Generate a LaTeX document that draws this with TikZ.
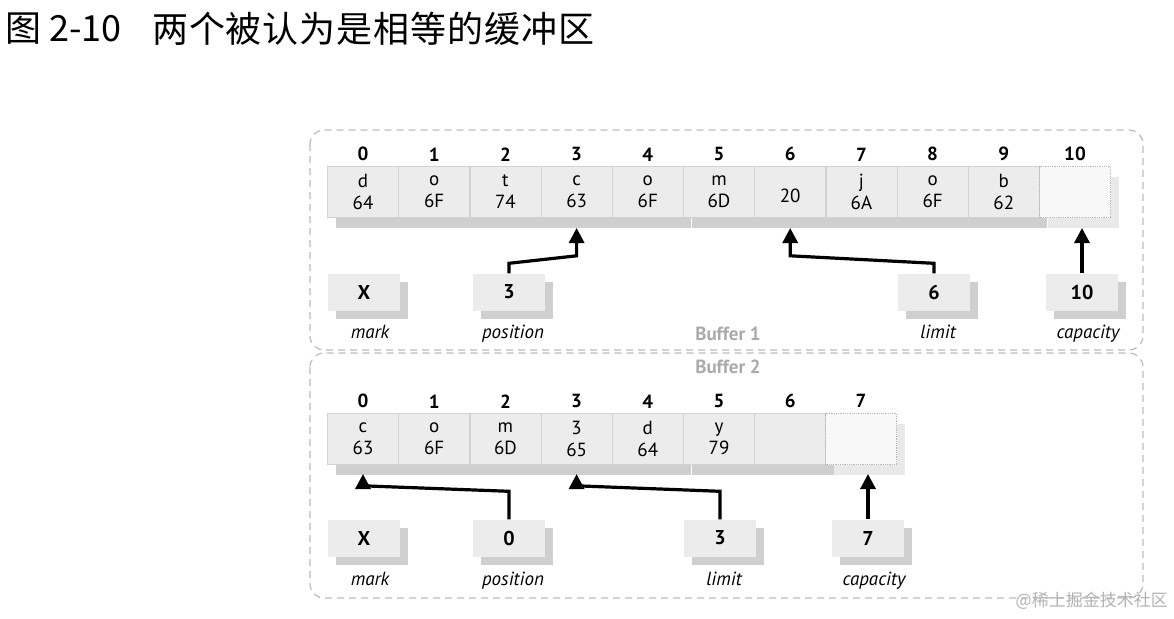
\documentclass[tikz,border=0pt]{standalone}
\usepackage{fontspec}
\setmainfont{PT Sans}
\newfontfamily\cjkfont{Noto Sans CJK SC}
\newfontfamily\cjktitle[LetterSpace=2.5]{Noto Sans CJK SC}
\usepackage{tikz}
\usetikzlibrary{positioning, arrows.meta, calc, shadows}
\definecolor{cellgray}{HTML}{ECECEC}
\definecolor{cellshade}{HTML}{CFCFCF}
\definecolor{emptygray}{HTML}{F8F8F8}
\definecolor{framegray}{HTML}{BBBBBB}
\definecolor{buffergray}{HTML}{AAAAAA}

\tikzset{
  cellbase/.style={minimum width=71pt, minimum height=51pt, inner sep=0pt,
    align=center, font=\fontsize{19}{22}\selectfont},
  cellbox/.style={cellbase, fill=cellgray, draw=gray!35, line width=0.6pt,
    drop shadow={shadow xshift=8pt, shadow yshift=-10pt, fill=cellshade, opacity=1}},
  emptycell/.style={cellbase, fill=emptygray, draw=gray!55, densely dotted, line width=0.8pt,
    drop shadow={shadow xshift=8pt, shadow yshift=-10pt, fill=cellshade!45, opacity=1}},
  index/.style={inner sep=0pt, font=\fontsize{19}{19}\bfseries\selectfont},
  tagbox/.style={fill=cellgray, minimum width=72pt, minimum height=37pt, inner sep=0pt,
    font=\fontsize{20}{20}\bfseries\selectfont,
    drop shadow={shadow xshift=8pt, shadow yshift=-8pt, fill=cellshade, opacity=1}},
  tagname/.style={inner sep=0pt, text height=13pt, text depth=4pt,
    font=\fontsize{19}{19}\itshape\selectfont},
  pointer/.style={draw, line width=3.2pt, -{Triangle[length=15pt, width=15pt]}},
  frame/.style={draw=framegray, line width=1.2pt, dash pattern=on 7pt off 5pt,
    rounded corners=14pt},
  buffername/.style={text=buffergray, font=\fontsize{19}{19}\bfseries\selectfont}
}

\begin{document}
\begin{tikzpicture}[x=1pt, y=-1pt]
  \useasboundingbox (0,0) rectangle (1174,618);

  \node[anchor=west, inner sep=0pt, font=\fontsize{36}{36}\cjkfont] (fignum) at (5,29) {图 2-10};
  \node[anchor=west, inner sep=0pt, font=\fontsize{36}{36}\cjktitle] (caption) at (152,29) {两个被认为是相等的缓冲区};

  \draw[frame] (310,130) rectangle (1143,350);
  \draw[frame] (310,353) rectangle (1143,598);
  \node[buffername] (buf1) at (728,334) {Buffer 1};
  \node[buffername] (buf2) at (728,367) {Buffer 2};

  % Buffer 1
  \foreach \ch/\hex [count=\i from 0] in {d/64, o/6F, t/74, c/63, o/6F, m/6D, {}/20, j/6A, o/6F, b/62} {
    \node[cellbox] (b1c\i) at ({363+71.2*\i},192) {\ch\\\hex};
    \node[index, above=5pt of b1c\i] {\i};
  }
  \node[emptycell] (b1c10) at (1075,192) {};
  \node[index, above=5pt of b1c10] {10};
  \coordinate (b1floor) at (0,228);

  \node[tagbox] (b1mark) at (364,292) {X};
  \node[tagbox] (b1pos) at (509,292) {3};
  \node[tagbox] (b1lim) at (934,292) {6};
  \node[tagbox] (b1cap) at (1082,292) {10};
  \node[tagname, below=15pt of b1mark, xshift=6pt] {mark};
  \node[tagname, below=15pt of b1pos, xshift=4pt] {position};
  \node[tagname, below=15pt of b1lim, xshift=4pt] {limit};
  \node[tagname, below=15pt of b1cap, xshift=6pt] {capacity};

  \draw[pointer] (b1pos.north) -- ++(0,-10) -- ($(b1c3.south)+(0,38)$) -- (b1c3.south |- b1floor);
  \draw[pointer] (b1lim.north) -- ++(0,-10) -- ($(b1c6.south)+(0,38)$) -- (b1c6.south |- b1floor);
  \draw[pointer] (b1cap.north) -- (b1cap.north |- b1floor);

  % Buffer 2
  \foreach \ch/\hex [count=\i from 0] in {c/63, o/6F, m/6D, 3/65, d/64, y/79, {}/{}} {
    \node[cellbox] (b2c\i) at ({363+71.2*\i},439) {\ch\\\hex};
    \node[index, above=5pt of b2c\i] {\i};
  }
  \node[emptycell] (b2c7) at (861,439) {};
  \node[index, above=5pt of b2c7] {7};
  \coordinate (b2floor) at (0,474);

  \node[tagbox] (b2mark) at (364,538) {X};
  \node[tagbox] (b2pos) at (509,538) {0};
  \node[tagbox] (b2lim) at (720,538) {3};
  \node[tagbox] (b2cap) at (868,538) {7};
  \node[tagname, below=16pt of b2mark, xshift=6pt] {mark};
  \node[tagname, below=16pt of b2pos, xshift=4pt] {position};
  \node[tagname, below=16pt of b2lim, xshift=4pt] {limit};
  \node[tagname, below=16pt of b2cap, xshift=6pt] {capacity};

  \draw[pointer] (b2pos.north) -- ++(0,-28) -- ($(b2c0.south)+(0,21)$) -- (b2c0.south |- b2floor);
  \draw[pointer] (b2lim.north) -- ++(0,-28) -- ($(b2c3.south)+(0,21)$) -- (b2c3.south |- b2floor);
  \draw[pointer] (b2cap.north) -- (b2cap.north |- b2floor);

  \node[anchor=east, inner sep=0pt, text=gray!60, font=\fontsize{17}{17}\cjkfont] (mark) at (1168,601) {@稀土掘金技术社区};
\end{tikzpicture}
\end{document}
